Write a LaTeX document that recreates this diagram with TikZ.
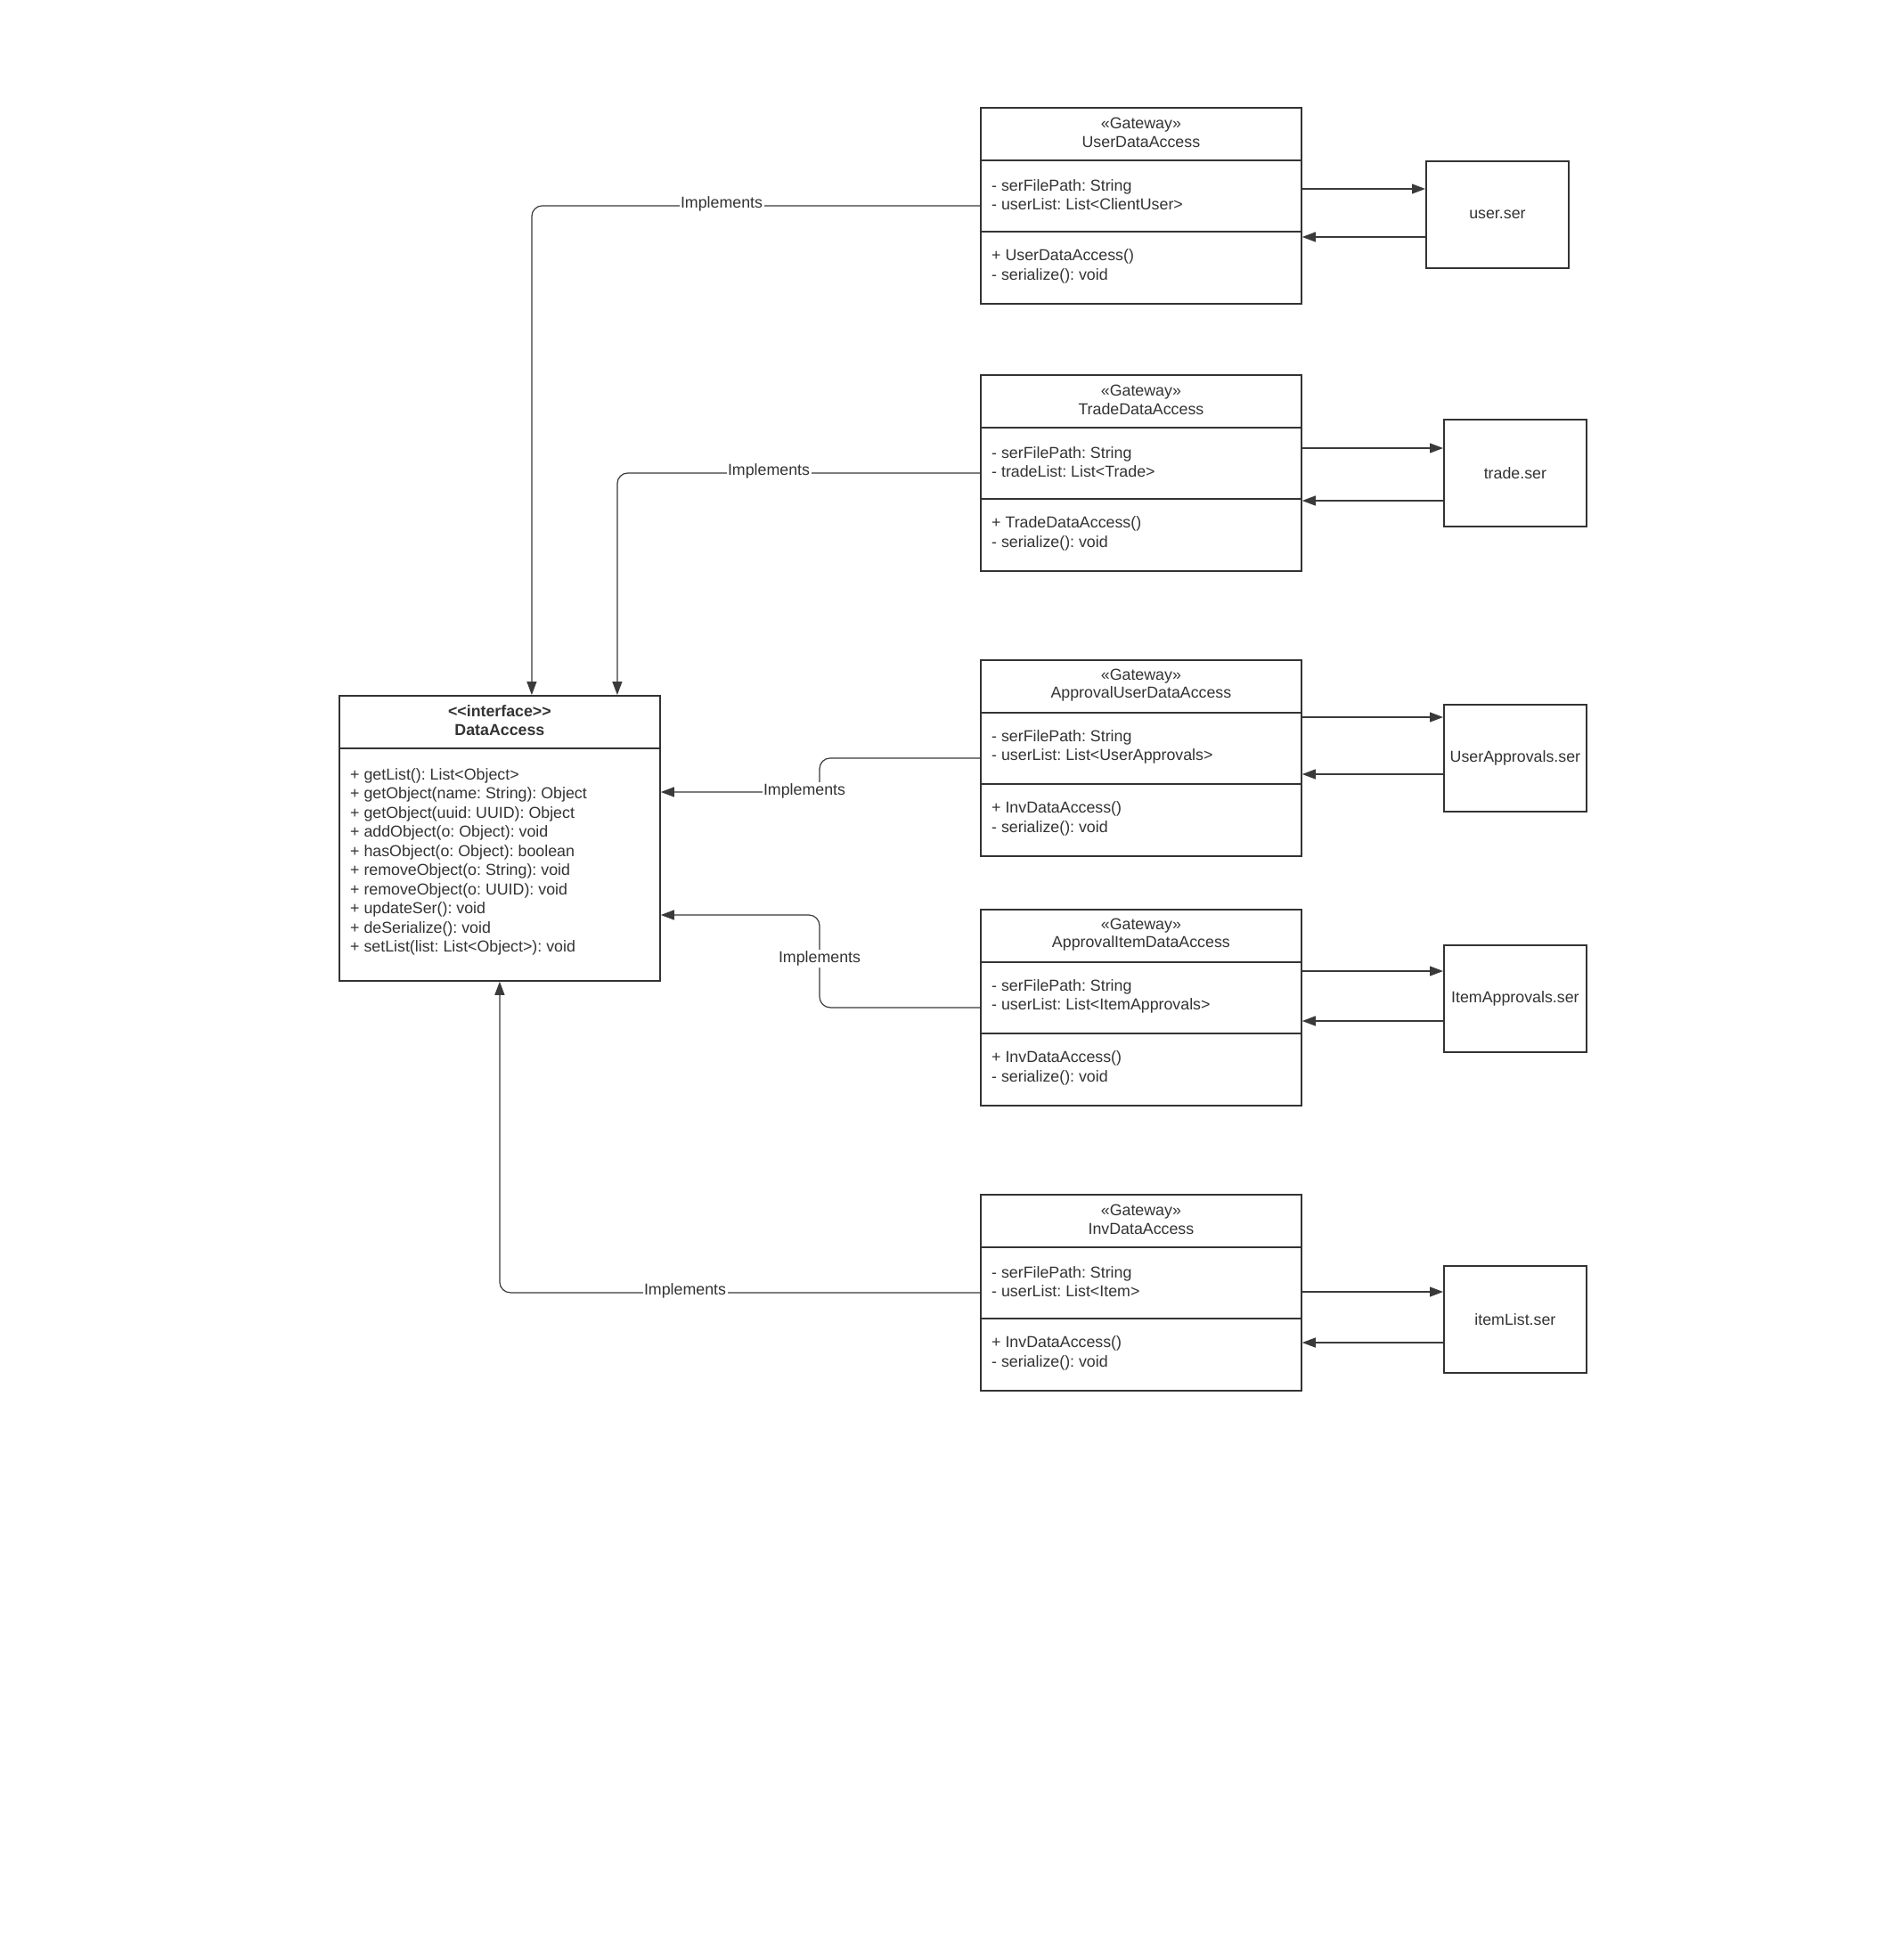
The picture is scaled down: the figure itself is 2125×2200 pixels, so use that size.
\documentclass[tikz,border=0pt]{standalone}
\usepackage{fontspec}
\setmainfont{Liberation Sans}[Ligatures=TeXOff]
\usetikzlibrary{arrows.meta}
\definecolor{ink}{HTML}{333333}
\definecolor{wire}{HTML}{3A3A3A}
\frenchspacing
\newcommand\gateway[5]{%
  \node[umlbox] (#1) at (1100,#2) {};
  \draw[sepline] ([yshift=-60pt]#1.north west) -- ([yshift=-60pt]#1.north east);
  \draw[sepline] ([yshift=-140pt]#1.north west) -- ([yshift=-140pt]#1.north east);
  \node[ttl, font=\fontsize{17.8}{20.3}\selectfont] (#1-t) at ([yshift=-29pt]#1.north) {«Gateway»\\#3};
  \node[txt] (#1-a) at ([xshift=13pt,yshift=-98.5pt]#1.north west) {- serFilePath: String\\#4};
  \node[txt] (#1-m) at ([xshift=13pt,yshift=-179pt]#1.north west) {#5\\- serialize(): void};
}
\begin{document}
\begin{tikzpicture}[x=1pt,y=-1pt,
  every node/.style={font=\fontsize{17.8}{21.5}\selectfont, text=ink},
  umlbox/.style={draw=ink, line width=1.8pt, inner sep=0pt, minimum width=360pt, minimum height=220pt, anchor=north west},
  serbox/.style={draw=ink, line width=1.8pt, inner sep=0pt, minimum width=160pt, minimum height=120pt, anchor=north west},
  sepline/.style={draw=ink, line width=1.8pt},
  txt/.style={anchor=west, align=left, inner sep=0pt},
  ttl/.style={align=center, inner sep=0pt},
  impl/.style={draw=wire, line width=1.2pt, rounded corners=12pt, -{Triangle[length=15pt,width=11pt]}},
  flow/.style={draw=wire, line width=1.2pt, -{Triangle[length=15pt,width=11pt]}},
  lbl/.style={fill=white, inner sep=1.5pt},
]
\useasboundingbox[fill=white] (0,0) rectangle (2125,2200);

% interface
\node[umlbox, minimum height=320pt, anchor=north west] (da) at (380,780) {};
\draw[sepline] ([yshift=-60pt]da.north west) -- ([yshift=-60pt]da.north east);
\node[ttl, font=\fontsize{17.8}{21.5}\selectfont\bfseries] (da-t) at ([yshift=-28.5pt]da.north) {<<interface>>\\DataAccess};
\node[txt] (da-m) at ([xshift=13pt,yshift=-187.5pt]da.north west) {%
+ getList(): List<Object>\\
+ getObject(name: String): Object\\
+ getObject(uuid: UUID): Object\\
+ addObject(o: Object): void\\
+ hasObject(o: Object): boolean\\
+ removeObject(o: String): void\\
+ removeObject(o: UUID): void\\
+ updateSer(): void\\
+ deSerialize(): void\\
+ setList(list: List<Object>): void};

% gateways
\gateway{ud}{120}{UserDataAccess}{- userList: List<ClientUser>}{+ UserDataAccess()}
\gateway{td}{420}{TradeDataAccess}{- tradeList: List<Trade>}{+ TradeDataAccess()}
\gateway{au}{740}{ApprovalUserDataAccess}{- userList: List<UserApprovals>}{+ InvDataAccess()}
\gateway{ai}{1020}{ApprovalItemDataAccess}{- userList: List<ItemApprovals>}{+ InvDataAccess()}
\gateway{iv}{1340}{InvDataAccess}{- userList: List<Item>}{+ InvDataAccess()}

% ser files
\node[serbox] (us) at (1600,180) {user.ser};
\node[serbox] (ts) at (1620,470) {trade.ser};
\node[serbox] (uas) at (1620,790) {UserApprovals.ser};
\node[serbox] (ias) at (1620,1060) {ItemApprovals.ser};
\node[serbox] (ils) at (1620,1420) {itemList.ser};

% gateway <-> ser
\draw[flow] (ud.east |- 0,212) -- (us.west |- 0,212);
\draw[flow] (us.west |- 0,266) -- (ud.east |- 0,266);
\draw[flow] (td.east |- 0,503) -- (ts.west |- 0,503);
\draw[flow] (ts.west |- 0,562) -- (td.east |- 0,562);
\draw[flow] (au.east |- 0,805) -- (uas.west |- 0,805);
\draw[flow] (uas.west |- 0,869) -- (au.east |- 0,869);
\draw[flow] (ai.east |- 0,1090) -- (ias.west |- 0,1090);
\draw[flow] (ias.west |- 0,1146) -- (ai.east |- 0,1146);
\draw[flow] (iv.east |- 0,1450) -- (ils.west |- 0,1450);
\draw[flow] (ils.west |- 0,1507) -- (iv.east |- 0,1507);

% implements
\coordinate (c-ud) at ([xshift=36pt]da.north);
\coordinate (c-td) at ([xshift=132pt]da.north);
\coordinate (c-au) at (920,889);
\coordinate (c-ai) at (920,1027);
\draw[impl] (ud.west) -| (c-ud);
\draw[impl] (td.west) -| (c-td);
\draw[impl] (au.west) -| (c-au) -- (da.east |- c-au);
\draw[impl] (ai.west) -| (c-ai) -- (da.east |- c-ai);
\draw[impl] (iv.west) -| (da.south);

\node[lbl] (l-ud) at (810,229) {Implements};
\node[lbl] (l-td) at (863,529) {Implements};
\node[lbl] (l-au) at (903,888) {Implements};
\node[lbl] (l-ai) at (920,1076) {Implements};
\node[lbl] (l-iv) at (769,1449) {Implements};
\end{tikzpicture}
\end{document}
